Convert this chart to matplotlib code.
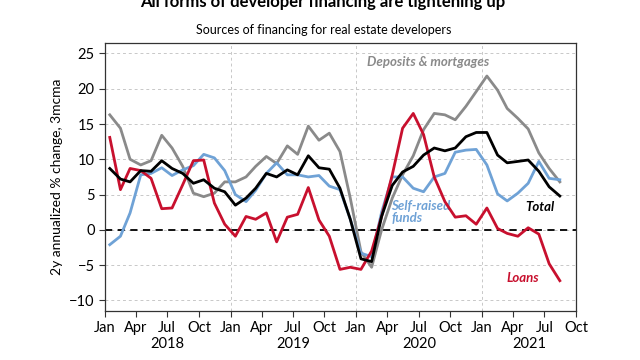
import pandas as pd
import matplotlib
matplotlib.use("Agg")
import matplotlib.pyplot as plt
import matplotlib.dates as mdates
import matplotlib.transforms as mtransforms

plt.rcParams['font.family'] = ['Lato', 'DejaVu Sans']
plt.rcParams['font.size'] = 10.5

# monthly data, plotted mid-month, Jan 2018 - Aug 2021
dates = pd.date_range('2018-01-01', '2021-08-01', freq='MS') + pd.Timedelta(days=14)

deposits = [16.3, 14.4, 10.0, 9.2, 9.8, 13.4, 11.6, 9.0, 5.2, 4.7,
            5.2, 6.8, 6.8, 7.5, 9.0, 10.4, 9.4, 11.9, 10.7, 14.7,
            12.7, 13.7, 11.1, 4.5, -3.1, -5.3, 0.0, 4.5, 7.8, 10.5,
            14.2, 16.5, 16.3, 15.6, 17.5, 19.6, 21.8, 19.8, 17.2, 15.8,
            14.3, 10.9, 8.7, 6.8]
self_raised = [-2.1, -0.9, 2.4, 7.8, 8.0, 8.8, 7.7, 8.5, 9.1, 10.7,
               10.2, 8.4, 5.0, 4.0, 5.6, 8.0, 9.5, 7.8, 7.8, 7.5,
               7.7, 6.2, 5.7, 1.5, -3.3, -3.8, 2.5, 7.5, 7.5, 5.9,
               5.4, 7.5, 8.0, 11.0, 11.3, 11.4, 9.2, 5.1, 4.1, 5.2,
               6.6, 9.7, 7.3, 7.1]
total = [8.7, 7.2, 6.8, 8.4, 8.3, 9.8, 8.7, 8.0, 6.6, 7.1,
         5.9, 5.4, 3.5, 4.5, 5.9, 8.0, 7.5, 8.5, 7.8, 10.5,
         8.8, 8.6, 5.9, 1.5, -4.1, -4.5, 1.9, 6.3, 8.2, 9.0,
         10.6, 11.6, 11.2, 11.6, 13.2, 13.8, 13.8, 10.6, 9.5, 9.7,
         9.9, 8.3, 6.1, 4.8]
loans = [13.1, 5.7, 8.7, 8.4, 7.3, 3.0, 3.1, 6.4, 9.8, 9.9,
         3.8, 0.8, -0.9, 1.9, 1.5, 2.4, -1.7, 1.8, 2.2, 6.0,
         1.4, -0.9, -5.6, -5.3, -5.6, -3.0, 1.9, 7.8, 14.4, 16.5,
         13.5, 7.5, 4.0, 1.8, 2.0, 0.8, 3.1, 0.2, -0.5, -0.9,
         0.3, -0.6, -4.8, -7.2]

years = ['2018', '2019', '2020', '2021']
year_spans = [('2018-01-01', '2019-01-01'), ('2019-01-01', '2020-01-01'),
              ('2020-01-01', '2021-01-01'), ('2021-01-01', '2021-10-01')]

c_dep = '#8a8a8a'
c_self = '#6fa2d6'
c_tot = '#000000'
c_loan = '#c8102e'

fig = plt.figure(figsize=(6.4, 3.6), dpi=100)
ax = fig.add_axes([0.164, 0.136, 0.736, 0.745])

ax.axhline(0, color='black', lw=1.3, ls=(0, (4, 3)), zorder=2)
ax.plot(dates, deposits, color=c_dep, lw=2.0, zorder=3)
ax.plot(dates, self_raised, color=c_self, lw=2.0, zorder=3)
ax.plot(dates, loans, color=c_loan, lw=2.0, zorder=4)
ax.plot(dates, total, color=c_tot, lw=2.0, zorder=5)

ax.set_xlim(pd.Timestamp('2018-01-01'), pd.Timestamp('2021-10-01'))
ax.set_ylim(-11.5, 26.5)
ax.set_yticks([-10, -5, 0, 5, 10, 15, 20, 25])

ax.xaxis.set_major_locator(mdates.MonthLocator(bymonth=[1, 4, 7, 10]))
ax.xaxis.set_major_formatter(mdates.DateFormatter('%b'))
ax.tick_params(axis='both', labelsize=10.5, length=4, width=0.8, color='#333333')
ax.tick_params(axis='x', pad=3)

# horizontal grid at every tick, vertical grid only at January
ax.yaxis.grid(True, color='#c8c8c8', ls=(0, (3, 3)), lw=0.7)
for y in years:
    ax.axvline(pd.Timestamp(y + '-01-01'), color='#c8c8c8', ls=(0, (3, 3)), lw=0.7, zorder=1)
ax.set_axisbelow(True)

for s in ax.spines.values():
    s.set_color('#333333')
    s.set_linewidth(0.9)

trans = mtransforms.blended_transform_factory(ax.transData, ax.transAxes)
for label, (a, b) in zip(years, year_spans):
    mid = pd.Timestamp(a) + (pd.Timestamp(b) - pd.Timestamp(a)) / 2
    ax.text(mid, -0.123, label, transform=trans, ha='center', va='center', fontsize=10.5)

ax.set_ylabel('2y annualized % change, 3mcma', fontsize=10, labelpad=4)

ax.text(pd.Timestamp('2020-02-01'), 23.8, 'Deposits & mortgages', color=c_dep,
        fontsize=9.5, fontstyle='italic', fontweight='bold', va='center')
ax.text(pd.Timestamp('2020-04-12'), 2.5, 'Self-raised\nfunds', color=c_self,
        fontsize=9.5, fontstyle='italic', fontweight='bold', va='center', linespacing=1.05)
ax.text(pd.Timestamp('2021-05-08'), 3.3, 'Total', color=c_tot,
        fontsize=9.5, fontstyle='italic', fontweight='bold', va='center')
ax.text(pd.Timestamp('2021-03-12'), -6.8, 'Loans', color=c_loan,
        fontsize=9.5, fontstyle='italic', fontweight='bold', va='center')

fig.text(0.505, 0.995, 'All forms of developer financing are tightening up',
         ha='center', va='center', fontsize=12, fontweight='bold')
fig.text(0.505, 0.918, 'Sources of financing for real estate developers',
         ha='center', va='center', fontsize=9)

fig.savefig('out.png', dpi=100)
